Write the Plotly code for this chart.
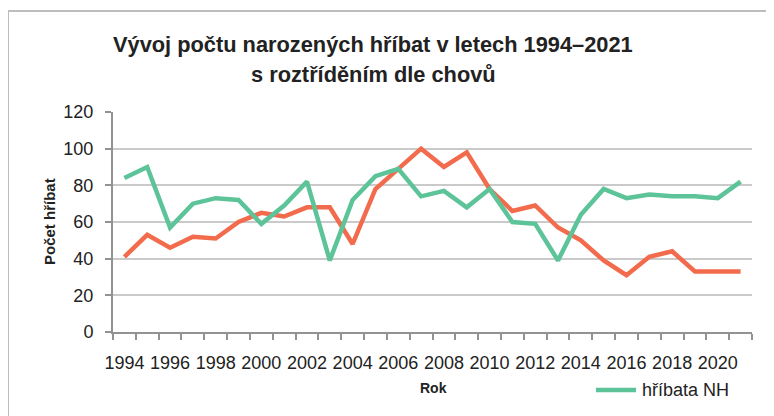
import plotly.graph_objects as go

years = list(range(1994, 2022))
hribata_nh = [84, 90, 57, 70, 73, 72, 59, 69, 82, 39, 72, 85, 89, 74, 77, 68, 78, 60, 59, 39, 64, 78, 73, 75, 74, 74, 73, 82]
hribata_other = [41, 53, 46, 52, 51, 60, 65, 63, 68, 68, 48, 78, 89, 100, 90, 98, 78, 66, 69, 57, 50, 39, 31, 41, 44, 33, 33, 33]
x_tick_labels = [str(y) for y in range(1994, 2022, 2)]
y_ticks = [0, 20, 40, 60, 80, 100, 120]
title_lines = ["Vývoj počtu narozených hříbat v letech 1994–2021", "s roztříděním dle chovů"]
legend_label = "hříbata NH"

GREEN = "#5DC399"
ORANGE = "#F26B4C"
FONT = "Liberation Sans"
TXT = "#222222"

fig = go.Figure()
fig.add_trace(go.Scatter(x=years, y=hribata_other, mode="lines", name="hříbata",
                         line=dict(color=ORANGE, width=4.5), showlegend=False))
fig.add_trace(go.Scatter(x=years, y=hribata_nh, mode="lines", name=legend_label,
                         line=dict(color=GREEN, width=4.5), showlegend=False))

OFF = 8  # page body margin
W, H = 774 - OFF, 416 - OFF
L, T = 113 - OFF, 112 - OFF
R = W - (752 - OFF)
B = H - (332 - OFF)
pw, ph = W - L - R, H - T - B

def px(sx):
    return (sx - OFF - L) / pw

def py(sy):
    return (H - B - (sy - OFF)) / ph

annotations = [
    dict(text="<b>" + title_lines[0] + "</b>", x=px(373), y=py(44), xref="paper", yref="paper",
         xanchor="center", yanchor="middle", showarrow=False, font=dict(size=21.8, color=TXT)),
    dict(text="<b>" + title_lines[1] + "</b>", x=px(373), y=py(74), xref="paper", yref="paper",
         xanchor="center", yanchor="middle", showarrow=False, font=dict(size=21.8, color=TXT)),
    dict(text="<b>Počet hříbat</b>", x=px(49), y=py(222), xref="paper", yref="paper", textangle=-90,
         xanchor="center", yanchor="middle", showarrow=False, font=dict(size=15, color=TXT)),
    dict(text="<b>Rok</b>", x=px(433), y=py(388), xref="paper", yref="paper",
         xanchor="center", yanchor="middle", showarrow=False, font=dict(size=14, color=TXT)),
    dict(text=legend_label, x=px(640), y=py(390), xref="paper", yref="paper",
         xanchor="left", yanchor="middle", showarrow=False, font=dict(size=18, color=TXT)),
]

fig.update_layout(
    width=W, height=H,
    margin=dict(l=L, r=R, t=T, b=B),
    paper_bgcolor="white", plot_bgcolor="white",
    font=dict(family=FONT, color=TXT),
    showlegend=False,
    xaxis=dict(range=[1993.5, 2021.5], tickmode="array", tickvals=list(range(1994, 2022, 2)),
               ticktext=x_tick_labels, ticks="", showgrid=False, zeroline=False, automargin=False,
               showline=True, linecolor="#929292", linewidth=2, ticklabelstandoff=13,
               tickfont=dict(size=18, color=TXT),
               minor=dict(tickvals=[1993.5 + i for i in range(29)], ticks="outside", ticklen=6,
                          tickcolor="#929292", tickwidth=1.5, showgrid=False)),
    yaxis=dict(range=[0, 120], tickvals=y_ticks, ticks="outside", ticklen=6, tickcolor="#929292",
               tickwidth=1.5, showgrid=True, gridcolor="#CACACA", gridwidth=1.5, zeroline=False,
               showline=True, linecolor="#929292", linewidth=2, automargin=False,
               ticklabelstandoff=8, tickfont=dict(size=18, color=TXT)),
    annotations=annotations,
    shapes=[dict(type="rect", xref="paper", yref="paper", x0=px(8), x1=px(790), y0=py(430), y1=py(11),
                 line=dict(color="#BDBDBD", width=2), fillcolor="rgba(0,0,0,0)", layer="below"),
            dict(type="line", xref="paper", yref="paper", x0=px(596), x1=px(636), y0=py(390), y1=py(390),
                 line=dict(color=GREEN, width=4.5))],
)

fig.write_html("out.html")
